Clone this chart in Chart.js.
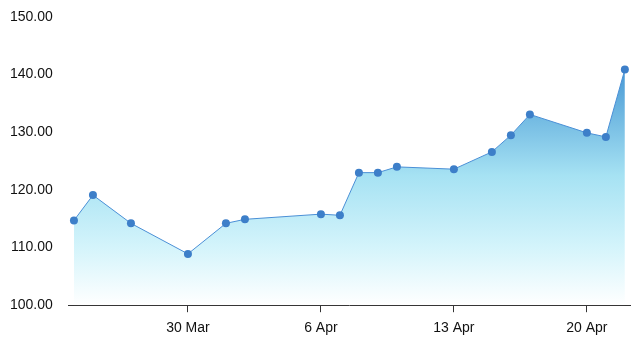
<!DOCTYPE html>
<html>
<head>
<meta charset="utf-8">
<script src="https://cdn.jsdelivr.net/npm/chart.js@4/dist/chart.umd.min.js"></script>
<style>
  html, body { margin: 0; padding: 0; background: #fff; }
  #wrap { width: 638px; height: 349px; }
</style>
</head>
<body>
<div id="wrap"><canvas id="priceChart"></canvas></div>
<script>
// data
const dates = ['2020-03-24', '2020-03-25', '2020-03-27', '2020-03-30', '2020-04-01', '2020-04-02',
               '2020-04-06', '2020-04-07', '2020-04-08', '2020-04-09', '2020-04-10', '2020-04-13',
               '2020-04-15', '2020-04-16', '2020-04-17', '2020-04-20', '2020-04-21', '2020-04-22'];
const prices = [114.7, 119.1, 114.2, 108.9, 114.2, 114.9,
                115.8, 115.6, 123.0, 123.0, 124.0, 123.6,
                126.6, 129.5, 133.1, 129.9, 129.2, 140.9];
const tickDates = ['2020-03-30', '2020-04-06', '2020-04-13', '2020-04-20'];
const months = ['Jan', 'Feb', 'Mar', 'Apr', 'May', 'Jun', 'Jul', 'Aug', 'Sep', 'Oct', 'Nov', 'Dec'];

const DAY = 86400000;
const toDay = s => Date.parse(s) / DAY;

const points = dates.map((d, i) => ({ x: toDay(d), y: prices[i] }));

const ctx = document.getElementById('priceChart').getContext('2d');

const priceChart = new Chart(ctx, {
    type: 'line',
    data: {
        datasets: [{
            data: points,
            borderColor: '#4a8fd6',
            borderWidth: 1,
            pointRadius: 4,
            pointHoverRadius: 4,
            pointBackgroundColor: '#3d7fc9',
            pointBorderColor: '#3d7fc9',
            pointBorderWidth: 0,
            tension: 0,
            fill: 'start',
            backgroundColor: function (context) {
                const area = context.chart.chartArea;
                if (!area) return 'rgba(160,220,240,0.5)';
                const g = context.chart.ctx.createLinearGradient(0, area.top, 0, area.bottom);
                g.addColorStop(0, '#2c7bc6');
                g.addColorStop(0.2, '#4c9cd6');
                g.addColorStop(0.55, '#a6e2f3');
                g.addColorStop(0.8, '#d4f4fb');
                g.addColorStop(1, '#ffffff');
                return g;
            }
        }]
    },
    options: {
        responsive: true,
        maintainAspectRatio: false,
        animation: false,
        layout: { padding: { left: -6, right: 8, top: 0, bottom: 4 } },
        plugins: {
            legend: { display: false },
            tooltip: { enabled: false }
        },
        scales: {
            x: {
                type: 'linear',
                min: toDay(dates[0]) - 0.27,
                max: toDay(dates[dates.length - 1]) + 0.27,
                afterBuildTicks: axis => {
                    axis.ticks = tickDates.map(d => ({ value: toDay(d) }));
                },
                grid: {
                    drawOnChartArea: false,
                    tickLength: 7,
                    color: '#333'
                },
                border: { color: '#333', width: 1 },
                ticks: {
                    color: '#111',
                    font: { family: 'Liberation Sans, Arial', size: 14 },
                    padding: 8,
                    maxRotation: 0,
                    callback: v => {
                        const d = new Date(v * DAY);
                        return d.getUTCDate() + ' ' + months[d.getUTCMonth()];
                    }
                }
            },
            y: {
                min: 100,
                max: 150,
                afterFit: axis => { axis.paddingTop = 17; },
                grid: { display: false, drawTicks: false },
                border: { display: false },
                ticks: {
                    stepSize: 10,
                    color: '#111',
                    padding: 16,
                    font: { family: 'Liberation Sans, Arial', size: 14 },
                    callback: v => v.toFixed(2)
                }
            }
        }
    }
});
</script>
</body>
</html>
